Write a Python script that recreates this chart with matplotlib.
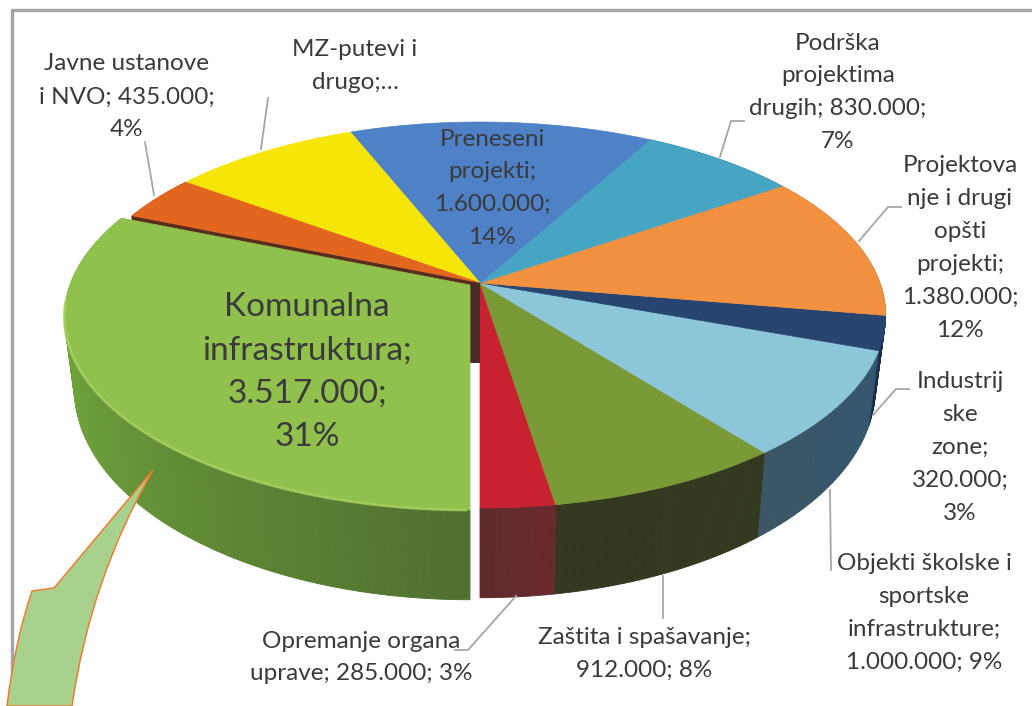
"""Exploded perspective pie of the budget shares, drawn on a pixel-sized axes."""

import matplotlib
matplotlib.use("Agg")
import matplotlib.pyplot as plt
import numpy as np
from matplotlib.colors import to_rgb
from matplotlib.patches import PathPatch, Polygon
from matplotlib.path import Path

# slices run from straight down, counter-clockwise on screen
NAMES = [
    "Opremanje organa uprave",
    "Zaštita i spašavanje",
    "Objekti školske i sportske infrastrukture",
    "Industrijske zone",
    "Projektovanje i drugi opšti projekti",
    "Podrška projektima drugih",
    "Preneseni projekti",
    "MZ-putevi i drugo",
    "Javne ustanove i NVO",
    "Komunalna infrastruktura",
]
VALUES = [285_000, 912_000, 1_000_000, 320_000, 1_380_000, 830_000, 1_600_000, 1_000_000, 435_000, 3_517_000]
TOP_COLORS = ["#c8212f", "#7a9a37", "#8cc6d9", "#27456f", "#f29140", "#47a5c4", "#4f81c6", "#f5e607", "#e3661f", "#90c14c"]
WALL_START = ["#5e2a2c", "#34381f", "#3c5666", "#1b2f4c", "#a8621f", "#2f7085", "#35578a", "#a89e05", "#99450f", "#80c040"]
WALL_END = ["#6a2a2e", "#33391f", "#33566f", "#1b2f4c", "#a8621f", "#2f7085", "#35578a", "#a89e05", "#99450f", "#4f7030"]
LABELS = [
    ["Opremanje organa", "uprave; 285.000; 3%"],
    ["Zaštita i spašavanje;", "912.000; 8%"],
    ["Objekti školske i", "sportske", "infrastrukture;", "1.000.000; 9%"],
    ["Industrij", "ske", "zone;", "320.000;", "3%"],
    ["Projektova", "nje i drugi", "opšti", "projekti;", "1.380.000;", "12%"],
    ["Podrška", "projektima", "drugih; 830.000;", "7%"],
    ["Preneseni", "projekti;", "1.600.000;", "14%"],
    ["MZ-putevi i", "drugo;…"],
    ["Javne ustanove", "i NVO; 435.000;", "4%"],
    ["Komunalna", "infrastruktura;", "3.517.000;", "31%"],
]
LABEL_X = [361, 644, 924, 960, 960, 838, 492, 355, 127, 307]
LABEL_Y = [641, 637, 564, 382, 166, 43, 139, 50, 64, 307]
LEADERS = [
    [(455, 650), (468, 650), (516, 596)],
    [(663, 618), (663, 576)],
    [(831, 570), (830, 490)],
    [(909, 389), (896, 389), (873, 415)],
    [(901, 207), (888, 207), (859, 241)],
    [(744, 121), (731, 121), (720, 157)],
    [(268, 98), (261, 149)],
    [(145, 142), (154, 195)],
]

# perspective of the disc, fitted on the picture
CX, CY = 480.0, 283.0
RX, RY, TILT = 400.0, 187.7, 0.1658
BOTTOM_X, BOTTOM_Y, BOTTOM_CY = 0.975, 1.09, 352.5
EXPLODE = (-10.0, 2.0)
FONT = "Lato"
TEXT_COLOR = "#3a3a3c"
LEADER_COLOR = "#a6a6a6"


def top_rim(theta):
    u, v = np.sin(theta), -np.cos(theta)
    scale = 1.0 / (1.0 + TILT * v)
    return CX + RX * u * scale, CY - RY * v * scale


def bottom_rim(theta):
    x, y = top_rim(theta)
    return CX + (x - CX) * BOTTOM_X, BOTTOM_CY + (y - CY) * BOTTOM_Y


def blend(start, end, t):
    a, b = np.array(to_rgb(start)), np.array(to_rgb(end))
    return tuple(a + (b - a) * t)


def draw_wall(ax, a0, a1, start, end, offset, zorder):
    # narrow strips so the side keeps a smooth shade change
    if a0 > np.radians(125) and a1 < np.radians(235):
        return
    steps = np.linspace(a0, a1, max(4, int(np.degrees(a1 - a0))) + 1)
    for i in range(len(steps) - 1):
        t0, t1 = steps[i], steps[i + 1]
        xt0, yt0 = top_rim(t0)
        xt1, yt1 = top_rim(t1)
        xb0, yb0 = bottom_rim(t0)
        xb1, yb1 = bottom_rim(t1)
        color = blend(start, end, (i + 0.5) / (len(steps) - 1))
        ax.add_patch(Polygon(
            [(xt0 + offset[0], yt0 + offset[1]), (xt1 + offset[0], yt1 + offset[1]),
             (xb1 + offset[0], yb1 + offset[1]), (xb0 + offset[0], yb0 + offset[1])],
            closed=True, facecolor=color, edgecolor=color, linewidth=0.6, zorder=zorder,
        ))


def draw_top(ax, a0, a1, color, offset, zorder):
    steps = np.linspace(a0, a1, 120)
    xs, ys = top_rim(steps)
    points = [(CX + offset[0], CY + offset[1])] + list(zip(xs + offset[0], ys + offset[1]))
    ax.add_patch(Polygon(points, closed=True, facecolor=color, edgecolor=color, linewidth=0.5, zorder=zorder))


fig = plt.figure(figsize=(10.32, 7.06), dpi=100, facecolor="white")
ax = fig.add_axes([0, 0, 1, 1])
ax.set_xlim(0, 1032)
ax.set_ylim(706, 0)
ax.axis("off")

# frame, open on the right and at the bottom
ax.plot([11.5, 11.5, 1032], [706, 10, 10], color="#a5a5a8", linewidth=2.4, solid_joinstyle="miter", zorder=1)

values = np.array(VALUES, dtype=float)
edges = np.concatenate([[0.0], np.cumsum(values) / values.sum() * 2 * np.pi])
last = len(values) - 1

# back to front, so the nearer side walls cover the farther ones
for i in reversed(range(last)):
    draw_wall(ax, edges[i], edges[i + 1], WALL_START[i], WALL_END[i], (0, 0), 2)
for i in range(last):
    draw_top(ax, edges[i], edges[i + 1], TOP_COLORS[i], (0, 0), 3)

# cut faces seen through the gap left by the pulled-out slice
rim_x, rim_y = top_rim(edges[last])
low_x, low_y = bottom_rim(edges[last])
ax.add_patch(Polygon([(CX, CY), (rim_x, rim_y), (low_x, low_y), (CX, BOTTOM_CY)],
                     closed=True, facecolor="#5a2c1c", edgecolor="none", zorder=4))
ax.add_patch(Polygon([(CX, CY), (CX, BOTTOM_CY + 10), (CX + EXPLODE[0], BOTTOM_CY + 10), (CX + EXPLODE[0], CY)],
                     closed=True, facecolor="#4a2b2b", edgecolor="none", zorder=4))

# pulled-out slice
draw_wall(ax, edges[last], edges[last + 1], WALL_START[last], WALL_END[last], EXPLODE, 5)
draw_top(ax, edges[last], edges[last + 1], TOP_COLORS[last], EXPLODE, 6)
glow = np.linspace(np.radians(275), np.radians(359.5), 150)
gx, gy = top_rim(glow)
ax.plot(gx + EXPLODE[0], gy + EXPLODE[1], color="#a9d162", linewidth=2.0, alpha=0.8, zorder=7)

# callout shape over the slice
callout = Path(
    [(153, 470), (54, 588), (32, 591), (15, 640), (7, 706), (72, 706), (90, 580), (153, 470)],
    [Path.MOVETO, Path.LINETO, Path.LINETO, Path.CURVE3, Path.CURVE3, Path.LINETO, Path.CURVE3, Path.CURVE3],
)
ax.add_patch(PathPatch(callout, facecolor="#a9d18e", edgecolor="#ed7d31", linewidth=1.1, zorder=8))

for path in LEADERS:
    ax.plot([p[0] for p in path], [p[1] for p in path], color=LEADER_COLOR, linewidth=1.3, zorder=9)

for i, lines in enumerate(LABELS):
    big = i == last
    pitch = 43.5 if big else 32.9
    for row, line in enumerate(lines):
        ax.text(LABEL_X[i], LABEL_Y[i] + row * pitch, line, ha="center", va="center",
                family=FONT, fontsize=24 if big else 17.5, color=TEXT_COLOR, zorder=10)

fig.savefig("out.png", dpi=100)
